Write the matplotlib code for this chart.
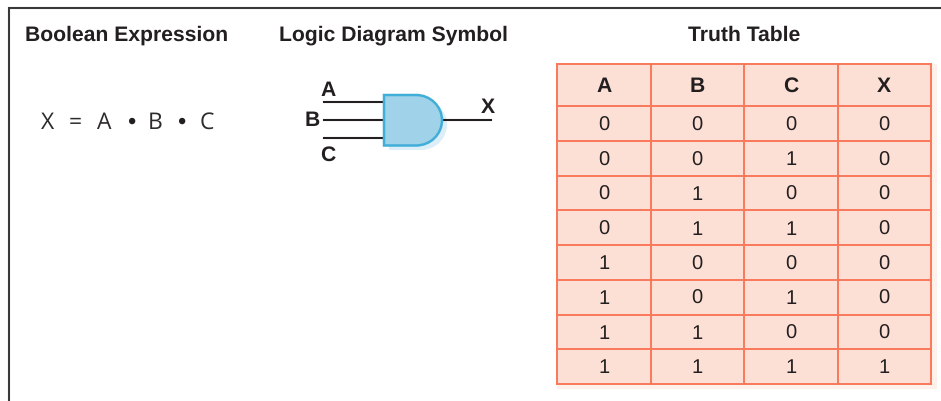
import matplotlib
matplotlib.use('Agg')
import matplotlib.pyplot as plt
from matplotlib.path import Path
from matplotlib.patches import PathPatch, Rectangle

plt.rcParams['font.family'] = ['Liberation Sans', 'DejaVu Sans']
plt.rcParams['text.hinting'] = 'none'

headers = ['A', 'B', 'C', 'X']
truth_rows = [
    [0, 0, 0, 0],
    [0, 0, 1, 0],
    [0, 1, 0, 0],
    [0, 1, 1, 0],
    [1, 0, 0, 0],
    [1, 0, 1, 0],
    [1, 1, 0, 0],
    [1, 1, 1, 1],
]
titles = ['Boolean Expression', 'Logic Diagram Symbol', 'Truth Table']
expression = ['X', '=', 'A', '•', 'B', '•', 'C']

dark = '#231f20'
line_red = '#f9785a'
cell_red = '#fde0d5'
gate_blue = '#a0d2e9'
gate_edge = '#41aed8'

fig = plt.figure(figsize=(9.41, 4.02), dpi=100)
ax = fig.add_axes([0, 0, 1, 1])
ax.set_xlim(0, 941)
ax.set_ylim(402, 0)
ax.axis('off')

# frame, only left and top show
ax.plot([9, 9, 941], [402, 8.5, 8.5], color='#3a3839', lw=1.5, solid_joinstyle='miter')

# section titles
ax.text(25, 35.5, titles[0], fontsize=15.2, fontweight='bold', color=dark, va='center', ha='left')
ax.text(279, 35.5, titles[1], fontsize=15.2, fontweight='bold', color=dark, va='center', ha='left')
ax.text(744, 35.5, titles[2], fontsize=15.2, fontweight='bold', color=dark, va='center', ha='center')

# boolean expression
expr_x = [48, 75, 104, 131, 155, 181, 207]
for s, x in zip(expression, expr_x):
    if s == '•':
        ax.text(x, 122, s, fontsize=17, color=dark, va='center', ha='center')
    else:
        ax.text(x, 123, s, fontsize=16.5, color='#2e2b2c', va='center', ha='center',
                family=['Open Sans', 'DejaVu Sans'])


def gate_path(dx=0, dy=0):
    # flat back, half round front
    verts = [(384 + dx, 96 + dy), (416 + dx, 96 + dy),
             (430.5 + dx, 96 + dy), (442 + dx, 107.3 + dy), (442 + dx, 121.2 + dy),
             (442 + dx, 135.2 + dy), (430.5 + dx, 146.5 + dy), (416 + dx, 146.5 + dy),
             (384 + dx, 146.5 + dy), (384 + dx, 96 + dy)]
    codes = [Path.MOVETO, Path.LINETO,
             Path.CURVE4, Path.CURVE4, Path.CURVE4,
             Path.CURVE4, Path.CURVE4, Path.CURVE4,
             Path.LINETO, Path.CLOSEPOLY]
    return Path(verts, codes)


# gate body with its soft shadow
ax.add_patch(PathPatch(gate_path(5, 4.5), fc='#dceef7', ec='none', zorder=1))
ax.add_patch(PathPatch(gate_path(), fc=gate_blue, ec=gate_edge, lw=1.8, zorder=4))

# gate wires
for y in [102.5, 120.5, 138.5]:
    ax.plot([324, 384], [y, y], color=dark, lw=1.5, zorder=2)
ax.plot([442, 491], [120.5, 120.5], color=dark, lw=1.5, zorder=2)

ax.text(328, 90.5, 'A', fontsize=15.2, fontweight='bold', color=dark, ha='center', va='center')
ax.text(312, 120.5, 'B', fontsize=15.2, fontweight='bold', color=dark, ha='center', va='center')
ax.text(328, 155, 'C', fontsize=15.2, fontweight='bold', color=dark, ha='center', va='center')
ax.text(488, 107.5, 'X', fontsize=15.2, fontweight='bold', color=dark, ha='center', va='center')

# truth table
col_edges = [557.5, 651, 744.5, 838, 931]
row_edges = [64.5, 107, 142, 176.5, 211, 246, 280.5, 315.5, 350, 384.5]

ax.add_patch(Rectangle((col_edges[0], row_edges[0]), 937 - col_edges[0], 390 - row_edges[0],
                       fc='#fef1ea', ec='none', zorder=1))
ax.add_patch(Rectangle((col_edges[0], row_edges[0]), col_edges[-1] - col_edges[0],
                       row_edges[-1] - row_edges[0], fc=cell_red, ec='none', zorder=2))
for x in col_edges:
    ax.plot([x, x], [row_edges[0], row_edges[-1]], color=line_red, lw=1.4, zorder=3)
for y in row_edges:
    ax.plot([col_edges[0], col_edges[-1]], [y, y], color=line_red, lw=1.4, zorder=3)

for c, name in enumerate(headers):
    xc = (col_edges[c] + col_edges[c + 1]) / 2 - 0.5
    ax.text(xc, (row_edges[0] + row_edges[1]) / 2 + 1, name, fontsize=15.2, fontweight='bold',
            color=dark, ha='center', va='center', zorder=5)
    for r, row in enumerate(truth_rows):
        yc = (row_edges[r + 1] + row_edges[r + 2]) / 2 + 1
        ax.text(xc, yc, str(row[c]), fontsize=14.5, color=dark, ha='center', va='center', zorder=5)

fig.savefig('out.png', dpi=100)
